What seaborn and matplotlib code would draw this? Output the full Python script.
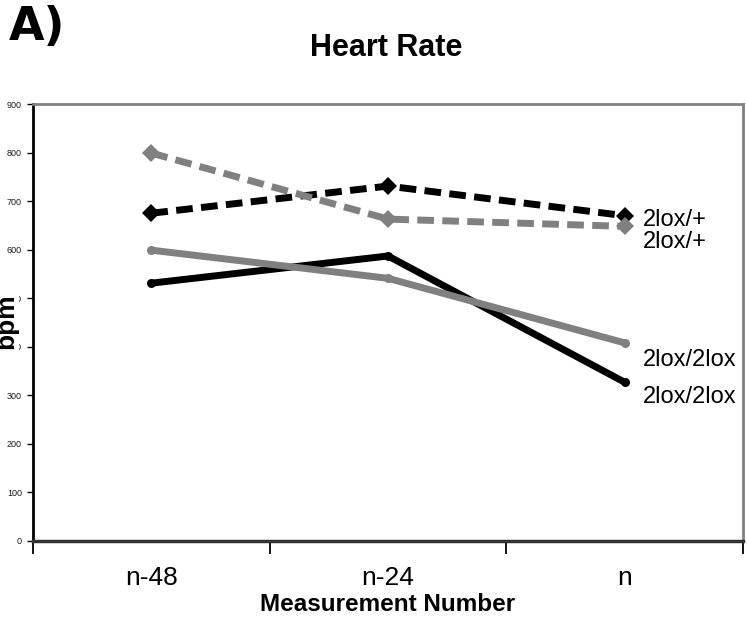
import matplotlib
matplotlib.use("Agg")
import matplotlib.pyplot as plt
import seaborn as sns
import pandas as pd

# Measurement points and mean heart rate (bpm) per genotype group
categories = ["n-48", "n-24", "n"]
black_het = [675, 731, 670]      # black dashed, 2lox/+
gray_het = [799, 663, 648]       # gray dashed, 2lox/+
gray_hom = [599, 541, 408]       # gray solid, 2lox/2lox
black_hom = [531, 587, 327]      # black solid, 2lox/2lox
end_labels = ["2lox/+", "2lox/+", "2lox/2lox", "2lox/2lox"]
y_ticks = [0, 100, 200, 300, 400, 500, 600, 700, 800, 900]

sns.set_theme(style="white")
plt.rcParams["font.family"] = ["Liberation Sans", "DejaVu Sans"]
plt.rcParams["text.color"] = "black"
plt.rcParams["axes.labelcolor"] = "black"

fig = plt.figure(figsize=(7.47, 6.18), dpi=100)
ax = fig.add_axes([0.0442, 0.1246, 0.9504, 0.7071])

GRAY = "#808080"
series = [
    ("2lox/2lox black", black_hom, "black", "-", "o", 6.5),
    ("2lox/2lox gray", gray_hom, GRAY, "-", "o", 6.5),
    ("2lox/+ black", black_het, "black", "--", "D", 9),
    ("2lox/+ gray", gray_het, GRAY, "--", "D", 9),
]

for name, vals, col, ls, mk, ms in series:
    df = pd.DataFrame({"Measurement Number": categories, "bpm": vals})
    sns.lineplot(data=df, x="Measurement Number", y="bpm", ax=ax, color=col,
                 linewidth=5, marker=mk, markersize=ms, markeredgewidth=0,
                 sort=False)
    line = ax.lines[-1]
    if ls == "--":
        line.set_dashes((2.4, 1.2))
        line.set_dash_capstyle("butt")
    else:
        line.set_solid_capstyle("round")

ax.set_xlim(-0.5, 2.5)
ax.set_ylim(0, 900)

# category labels centred between boundary tick marks
ax.set_xticks([0, 1, 2])
ax.set_xticklabels(categories)
ax.set_xticks([-0.5, 0.5, 1.5, 2.5], minor=True)
ax.tick_params(axis="x", which="major", length=0, pad=18, labelsize=19,
               labelcolor="black")
ax.tick_params(axis="x", which="minor", length=9, width=1.3, color="black",
               direction="out", bottom=True)

ax.set_yticks(y_ticks)
ax.set_yticklabels([str(v) for v in y_ticks])
ax.tick_params(axis="y", length=4, width=1, color="black", direction="out",
               left=True, labelsize=6.5, labelcolor="#1a1a1a", pad=4)

ax.set_xlabel("Measurement Number", fontsize=17.5, fontweight="bold",
              color="black", labelpad=2)
ax.set_ylabel("")
ax.grid(False)

for side in ["top", "right"]:
    ax.spines[side].set_color(GRAY)
    ax.spines[side].set_linewidth(2)
ax.spines["left"].set_color("black")
ax.spines["left"].set_linewidth(2)
ax.spines["bottom"].set_color("#333333")
ax.spines["bottom"].set_linewidth(2.5)

# end-of-line group labels
label_pos = [(643, 220), (643, 242), (643, 360), (643, 397)]
for txt, (px, py) in zip(end_labels, label_pos):
    fig.text(px / 747, 1 - py / 618, txt, fontsize=17, color="black",
             ha="left", va="center")

fig.text(386 / 747, 1 - 48 / 618, "Heart Rate", fontsize=22,
         fontweight="bold", ha="center", va="center")
fig.text(9 / 747, 1 - 28 / 618, "A)", fontsize=33, fontweight="heavy",
         family=["DejaVu Sans"], ha="left", va="center")
fig.text(6 / 747, 1 - 321 / 618, "bpm", fontsize=19, fontweight="bold",
         rotation=90, ha="center", va="center",
         bbox=dict(facecolor="white", edgecolor="none", pad=0.5))

fig.savefig("out.png", dpi=100)
